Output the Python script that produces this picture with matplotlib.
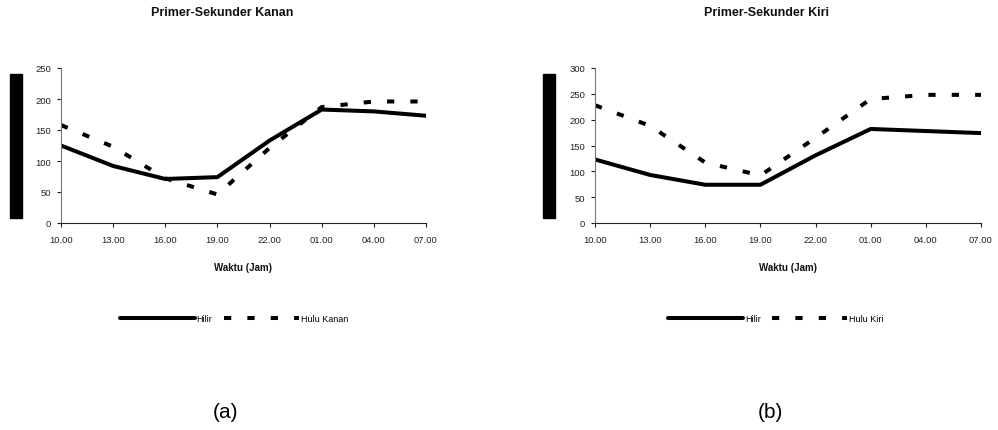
import matplotlib
matplotlib.use("Agg")
import matplotlib.pyplot as plt
from matplotlib.patches import Rectangle

plt.rcParams['font.family'] = ['Liberation Sans', 'DejaVu Sans']

# data
jam = ["10.00", "13.00", "16.00", "19.00", "22.00", "01.00", "04.00", "07.00"]

kanan_hilir = [125, 92, 71, 74, 133, 183, 180, 173]
kanan_hulu = [158, 123, 72, 46, 121, 187, 196, 196]

kiri_hilir = [123, 93, 74, 74, 131, 182, 178, 174]
kiri_hulu = [228, 188, 117, 92, 165, 240, 248, 248]

panels = [
    dict(title="Primer-Sekunder Kanan", hilir=kanan_hilir, hulu=kanan_hulu,
         hulu_label="Hulu Kanan", ymax=250, tag="(a)"),
    dict(title="Primer-Sekunder Kiri", hilir=kiri_hilir, hulu=kiri_hulu,
         hulu_label="Hulu Kiri", ymax=300, tag="(b)"),
]

W, H = 998, 431
fig = plt.figure(figsize=(W / 100, H / 100), dpi=100)

# axes boxes in pixels: x0, x1, ytop, ybottom
boxes = [(61, 426, 69, 224), (595, 981, 69, 224)]
bars = [(10, 22), (543, 555)]
legend_cx = [234, 776]


def fx(px):
    return px / W


def fy(py):
    return 1 - py / H


for p, (x0, x1, yt, yb), (bx0, bx1), lcx in zip(panels, boxes, bars, legend_cx):
    ax = fig.add_axes([fx(x0), fy(yb), fx(x1 - x0), (yb - yt) / H])
    xs = range(len(jam))
    ax.plot(xs, p["hilir"], color="black", lw=2.9, solid_capstyle="round",
            solid_joinstyle="round", label="Hilir")
    ax.plot(xs, p["hulu"], color="black", lw=2.9, dashes=(1.8, 4.0),
            dash_capstyle="butt", label=p["hulu_label"])
    ax.set_xlim(0, len(jam) - 1)
    ax.set_ylim(0, p["ymax"])
    ax.set_yticks(range(0, p["ymax"] + 1, 50))
    ax.set_xticks(list(xs))
    ax.set_xticklabels(jam)
    ax.tick_params(axis="both", labelsize=6.8, length=3, width=0.8,
                   colors="#222222", pad=4)
    ax.tick_params(axis="x", pad=6)
    for s in ("top", "right"):
        ax.spines[s].set_visible(False)
    ax.spines["left"].set_color("#777777")
    ax.spines["bottom"].set_color("#222222")
    ax.patch.set_alpha(0)

    cx = (x0 + x1) / 2
    fig.text(fx(cx - 21), fy(13), p["title"], ha="center", va="center",
             fontsize=9, fontweight="bold", color="#111111")
    fig.text(fx(cx), fy(268), "Waktu (Jam)", ha="center", va="center",
             fontsize=7, fontweight="bold", color="#111111")
    fig.text(fx(cx - 18), fy(413), p["tag"], ha="center", va="center",
             fontsize=15)

    # blacked-out y label block
    fig.patches.append(Rectangle((fx(bx0), fy(219)), fx(bx1 - bx0), (219 - 75) / H,
                                 transform=fig.transFigure, color="black"))

    fig.legend(handles=ax.get_lines(), loc="center",
               bbox_to_anchor=(fx(lcx), fy(320)),
               ncol=2, frameon=False, fontsize=6.5, handlelength=8.3,
               handletextpad=0.2, columnspacing=1.3)

fig.savefig("out.png", dpi=100)
